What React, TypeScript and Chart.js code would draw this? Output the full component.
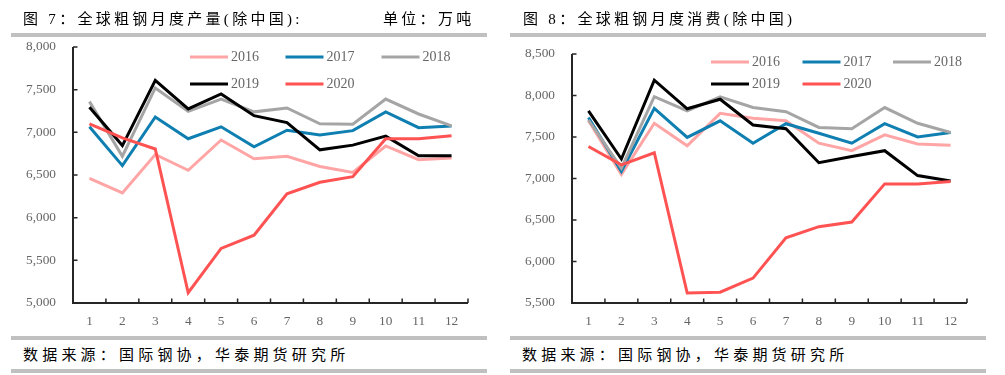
import React, { useEffect, useRef } from "react";
import { Chart, registerables } from "chart.js";

Chart.register(...registerables);

// ---------- data ----------
const MONTHS = ["1", "2", "3", "4", "5", "6", "7", "8", "9", "10", "11", "12"];
const YEARS = ["2016", "2017", "2018", "2019", "2020"];
const YEAR_COLORS = ["#ffa5a5", "#0e7fb0", "#a5a5a5", "#000000", "#ff5353"];

// 图7 产量 (万吨)
const PROD_2016 = [6460, 6290, 6740, 6555, 6910, 6690, 6720, 6600, 6530, 6840, 6680, 6700];
const PROD_2017 = [7065, 6610, 7180, 6925, 7065, 6830, 7025, 6970, 7020, 7240, 7055, 7075];
const PROD_2018 = [7360, 6720, 7520, 7245, 7390, 7240, 7285, 7100, 7095, 7390, 7215, 7075];
const PROD_2019 = [7295, 6845, 7610, 7275, 7450, 7195, 7115, 6795, 6850, 6955, 6725, 6725];
const PROD_2020 = [7100, 6935, 6805, 5120, 5640, 5795, 6280, 6415, 6480, 6925, 6925, 6960];

// 图8 消费 (万吨)
const CONS_2016 = [7700, 7050, 7665, 7395, 7785, 7725, 7695, 7425, 7335, 7525, 7415, 7400];
const CONS_2017 = [7735, 7085, 7845, 7495, 7695, 7425, 7660, 7545, 7425, 7660, 7500, 7555];
const CONS_2018 = [7705, 7125, 7985, 7815, 7985, 7855, 7805, 7615, 7600, 7855, 7665, 7555];
const CONS_2019 = [7815, 7235, 8185, 7840, 7955, 7645, 7600, 7190, 7265, 7335, 7035, 6970];
const CONS_2020 = [7385, 7165, 7310, 5620, 5630, 5800, 6285, 6420, 6475, 6935, 6935, 6965];

const PROD_Y = { min: 5000, max: 8000, step: 500 };
const CONS_Y = { min: 5500, max: 8500, step: 500 };

const TITLE_LEFT = "图 7：全球粗钢月度产量(除中国):";
const UNIT_LEFT = "单位：万吨";
const TITLE_RIGHT = "图 8：全球粗钢月度消费(除中国)";
const SOURCE = "数据来源：国际钢协，华泰期货研究所";

// ---------- styles ----------
const TEXT_COLOR = "#666666";
const AXIS_COLOR = "#262626";
const BAR_COLOR = "#c0c0c0";
const SERIF = '"Liberation Serif", "Times New Roman", serif';
const CJK = '"Liberation Serif", "Noto Sans CJK SC", serif';

const innerAxisPlugin = {
  id: "innerAxis",
  afterDatasetsDraw(chart: any) {
    const { ctx, chartArea, scales } = chart;
    const xs = scales.x;
    const ys = scales.y;
    ctx.save();
    ctx.strokeStyle = AXIS_COLOR;
    ctx.lineWidth = 2;
    ctx.beginPath();
    ctx.moveTo(chartArea.left, chartArea.top);
    ctx.lineTo(chartArea.left, chartArea.bottom);
    ctx.lineTo(chartArea.right, chartArea.bottom);
    ctx.stroke();
    ctx.lineWidth = 1.5;
    ctx.beginPath();
    ys.ticks.forEach((_: any, i: number) => {
      const py = ys.getPixelForTick(i);
      ctx.moveTo(chartArea.left, py);
      ctx.lineTo(chartArea.left + 4.5, py);
    });
    const n = chart.data.labels.length;
    for (let k = 0; k <= n; k++) {
      const px = xs.getPixelForValue(k - 0.5);
      ctx.moveTo(px, chartArea.bottom);
      ctx.lineTo(px, chartArea.bottom - 4.5);
    }
    ctx.stroke();
    ctx.restore();
  },
};

const gridLegendPlugin = {
  id: "gridLegend",
  afterDraw(chart: any, _args: any, opts: any) {
    const { ctx, chartArea } = chart;
    ctx.save();
    ctx.font = opts.font;
    ctx.textBaseline = "middle";
    ctx.textAlign = "left";
    chart.data.datasets.forEach((d: any, i: number) => {
      const col = i % 3;
      const row = Math.floor(i / 3);
      const x = chartArea.left + opts.cols[col];
      const y = chartArea.top + opts.rows[row];
      ctx.strokeStyle = d.borderColor;
      ctx.lineWidth = 3;
      ctx.beginPath();
      ctx.moveTo(x, y);
      ctx.lineTo(x + opts.lineLen, y);
      ctx.stroke();
      ctx.fillStyle = TEXT_COLOR;
      ctx.fillText(d.label, x + opts.lineLen + opts.gap, y + 0.5);
    });
    ctx.restore();
  },
};

type LineChartProps = {
  series: number[][];
  yRange: { min: number; max: number; step: number };
  width: number;
  height: number;
  yWidth: number;
  padding: { left: number; right: number; top: number; bottom: number };
  legendCols: number[];
  legendRows: number[];
};

function LineChart(props: LineChartProps) {
  const ref = useRef<HTMLCanvasElement | null>(null);
  useEffect(() => {
    if (!ref.current) return;
    const chart = new Chart(ref.current, {
      type: "line",
      data: {
        labels: MONTHS,
        datasets: YEARS.map((y, i) => ({
          label: y,
          data: props.series[i],
          borderColor: YEAR_COLORS[i],
          backgroundColor: YEAR_COLORS[i],
          borderWidth: 3,
          pointRadius: 0,
          tension: 0,
          fill: false,
          order: YEARS.length - i,
        })),
      },
      options: {
        animation: false,
        responsive: false,
        maintainAspectRatio: false,
        layout: { padding: props.padding },
        plugins: {
          legend: { display: false },
          tooltip: { enabled: false },
          gridLegend: {
            font: `14px ${SERIF}`,
            cols: props.legendCols,
            rows: props.legendRows,
            lineLen: 38,
            gap: 3,
          },
        } as any,
        scales: {
          x: {
            type: "category",
            offset: true,
            grid: { display: false, drawTicks: false, offset: true },
            border: { display: false },
            ticks: {
              color: TEXT_COLOR,
              font: { family: SERIF, size: 13.3 },
              padding: 11,
              maxRotation: 0,
              autoSkip: false,
            },
            afterFit: (s: any) => {
              s.height = 25;
            },
          },
          y: {
            min: props.yRange.min,
            max: props.yRange.max,
            grid: { display: false, drawTicks: false },
            border: { display: false },
            ticks: {
              stepSize: props.yRange.step,
              color: TEXT_COLOR,
              font: { family: SERIF, size: 13.3 },
              padding: 17,
              callback: (v: any) => Number(v).toLocaleString("en-US"),
            },
            afterFit: (s: any) => {
              s.width = props.yWidth;
            },
          },
        },
      },
      plugins: [innerAxisPlugin, gridLegendPlugin],
    });
    return () => chart.destroy();
  }, []);
  return (
    <canvas
      ref={ref}
      width={props.width}
      height={props.height}
      style={{ display: "block", width: props.width, height: props.height }}
    />
  );
}

const bar = (left: number, top: number, width: number): React.CSSProperties => ({
  position: "absolute",
  left,
  top,
  width,
  height: 4,
  background: BAR_COLOR,
});

const textStyle = (left: number, top: number, spacing: number): React.CSSProperties => ({
  position: "absolute",
  left,
  top,
  fontFamily: CJK,
  fontSize: 15,
  lineHeight: "16px",
  letterSpacing: spacing,
  color: "#000",
  whiteSpace: "nowrap",
});

export default function App() {
  return (
    <div
      style={{
        position: "absolute",
        left: 0,
        top: 0,
        width: 1005,
        height: 375,
        background: "#fff",
        overflow: "hidden",
      }}
    >
      <div style={{ position: "absolute", left: 0, top: 0 }}>
        <LineChart
          series={[PROD_2016, PROD_2017, PROD_2018, PROD_2019, PROD_2020]}
          yRange={PROD_Y}
          width={500}
          height={335}
          yWidth={73}
          padding={{ left: 0, right: 32, top: 47, bottom: 7 }}
          legendCols={[117, 212.5, 308.5]}
          legendRows={[10, 37]}
        />
      </div>
      <div style={{ position: "absolute", left: 500, top: 0 }}>
        <LineChart
          series={[CONS_2016, CONS_2017, CONS_2018, CONS_2019, CONS_2020]}
          yRange={CONS_Y}
          width={505}
          height={335}
          yWidth={72}
          padding={{ left: 0, right: 38, top: 54, bottom: 7 }}
          legendCols={[139, 230.5, 321]}
          legendRows={[8, 30]}
        />
      </div>

      <div style={textStyle(23, 11, 3.3)}>{TITLE_LEFT}</div>
      <div style={textStyle(383, 11, 3.3)}>{UNIT_LEFT}</div>
      <div style={textStyle(523, 11, 3.3)}>{TITLE_RIGHT}</div>

      <div style={bar(11, 32.5, 476)} />
      <div style={bar(510, 32.5, 476)} />
      <div style={bar(11, 336, 476)} />
      <div style={bar(510, 336, 476)} />
      <div style={bar(11, 368.5, 476)} />
      <div style={bar(510, 368.5, 476)} />

      <div style={textStyle(23, 347, 4.2)}>{SOURCE}</div>
      <div style={textStyle(522, 347, 4.2)}>{SOURCE}</div>
    </div>
  );
}
